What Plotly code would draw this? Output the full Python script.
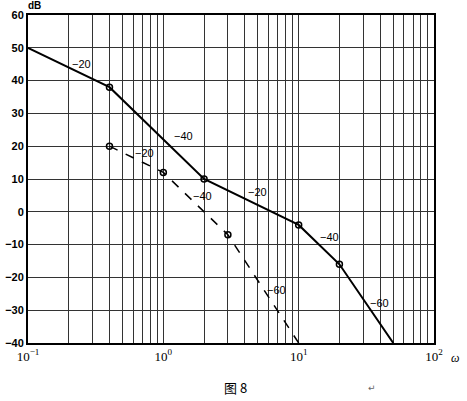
import math
import plotly.graph_objects as go

# Data
solid_w = [0.1, 0.4, 2, 10, 20, 50]
solid_db = [50, 38, 10, -4, -16, -40]
solid_mark_w = [0.4, 2, 10, 20]
solid_mark_db = [38, 10, -4, -16]

dashed_w = [0.4, 1, 3, 10]
dashed_db = [20, 12, -7, -40]
dashed_mark_w = [0.4, 1, 3]
dashed_mark_db = [20, 12, -7]

slope_labels = ["−20", "−20", "−40", "−40", "−20", "−40", "−60", "−60"]
slope_label_w = [0.25, 0.73, 1.40, 1.96, 5.0, 16.8, 6.8, 39.3]
slope_label_db = [45.1, 17.9, 23.1, 4.8, 6.0, -7.7, -23.8, -27.8]

y_ticks = [60, 50, 40, 30, 20, 10, 0, -10, -20, -30, -40]
x_major = [0.1, 1, 10, 100]
x_major_text = ["10<sup>−1</sup>", "10<sup>0</sup>", "10<sup>1</sup>", "10<sup>2</sup>"]
x_minor_mult = [2, 3, 4, 5, 6, 7, 8, 9]

x_minor = [round(m * d, 6) for d in [0.1, 1, 10] for m in x_minor_mult]

fig = go.Figure()
fig.add_trace(go.Scatter(x=solid_w, y=solid_db, mode="lines",
                         line=dict(color="black", width=2), showlegend=False))
fig.add_trace(go.Scatter(x=dashed_w, y=dashed_db, mode="lines",
                         line=dict(color="black", width=1.5, dash="dash"), showlegend=False))
fig.add_trace(go.Scatter(x=solid_mark_w + dashed_mark_w, y=solid_mark_db + dashed_mark_db,
                         mode="markers",
                         marker=dict(symbol="circle-open", size=6, color="black",
                                     line=dict(width=1.5, color="black")),
                         showlegend=False))

for t, xw, yd in zip(slope_labels, slope_label_w, slope_label_db):
    fig.add_annotation(x=math.log10(xw), y=yd, text=t, showarrow=False,
                       font=dict(family="Liberation Sans", size=11, color="black"))

fig.add_annotation(xref="paper", yref="paper", x=0.0, y=1.0, yshift=10, xshift=6,
                   xanchor="center", yanchor="middle",
                   text="<b>dB</b>", showarrow=False,
                   font=dict(family="Liberation Sans", size=10, color="black"))
fig.add_annotation(xref="paper", yref="paper", x=1.0, y=0.0, xshift=21, yshift=-15,
                   xanchor="center", yanchor="middle",
                   text="<i>ω</i>", showarrow=False,
                   font=dict(family="Liberation Serif", size=12, color="black"))
fig.add_annotation(xref="paper", yref="paper", x=0.51, y=0.0, yshift=-44,
                   xanchor="center", yanchor="middle",
                   text="图 8", showarrow=False,
                   font=dict(family="Noto Sans CJK SC", size=13, color="black"))
fig.add_annotation(xref="paper", yref="paper", x=0.847, y=0.0, yshift=-45,
                   xanchor="center", yanchor="middle",
                   text="↵", showarrow=False,
                   font=dict(family="DejaVu Sans", size=9, color="#666"))

fig.update_xaxes(type="log", range=[-1, 2], tickvals=x_major, ticktext=x_major_text,
                 showgrid=True, gridcolor="#333", gridwidth=1,
                 minor=dict(tickvals=x_minor, showgrid=True, gridcolor="#333", gridwidth=1, ticks=""),
                 showline=True, linecolor="black", linewidth=2, mirror=True,
                 ticks="", tickfont=dict(family="Liberation Serif", size=13, color="black"),
                 zeroline=False, automargin=False)
fig.update_yaxes(range=[-40, 60], tickvals=y_ticks,
                 showgrid=True, gridcolor="#333", gridwidth=1,
                 showline=True, linecolor="black", linewidth=2, mirror=True,
                 ticks="", tickfont=dict(family="Liberation Sans", size=11, color="black", weight="bold"),
                 zeroline=False, automargin=False)

fig.update_layout(width=467, height=401, margin=dict(l=28, r=33, t=15, b=58),
                  plot_bgcolor="white", paper_bgcolor="white")

fig.write_html("out.html", config={"displayModeBar": False},
               post_script="document.body.style.margin='0';")
